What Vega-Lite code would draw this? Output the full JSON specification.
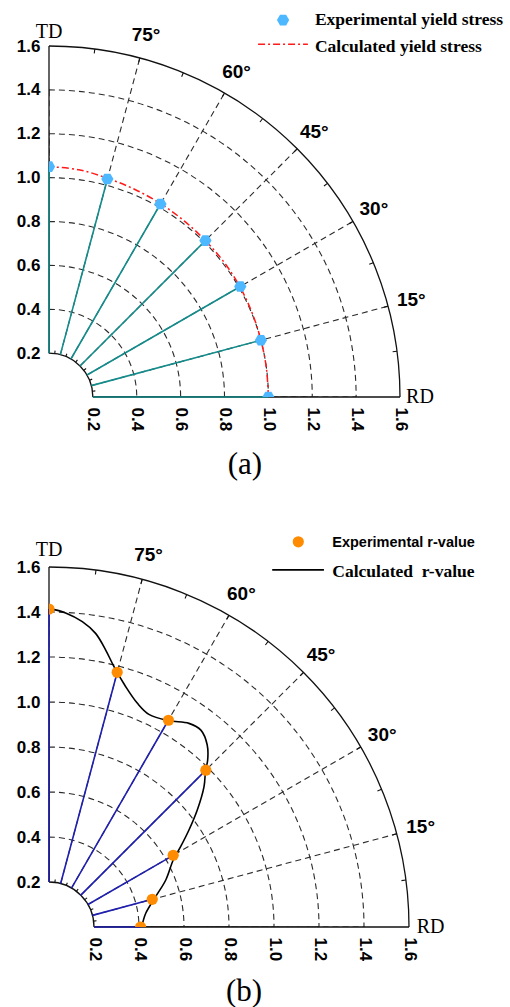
{
  "$schema": "https://vega.github.io/schema/vega-lite/v6.json",
  "background": "white",
  "padding": {"left": 16, "top": 11, "right": 0, "bottom": 0},
  "spacing": 54,
  "config": {
    "view": {"stroke": null},
    "axis": {"domain": false, "ticks": false, "tickSize": 0, "grid": false, "labelFont": "Liberation Sans", "labelFontWeight": "bold", "labelFontSize": 17, "labelColor": "#000000", "labelFlush": false, "labelOverlap": false},
    "axisX": {"labelAngle": 90, "labelAlign": "left", "labelBaseline": "middle", "labelPadding": 10},
    "axisY": {"labelPadding": 9}
  },
  "resolve": {"scale": {"theta": "independent", "radius": "independent"}},
  "datasets": {
    "rings": [
      {"r": 0.4, "a0": 90, "a1": 0}, {"r": 0.6, "a0": 90, "a1": 0}, {"r": 0.8, "a0": 90, "a1": 0},
      {"r": 1.0, "a0": 90, "a1": 0}, {"r": 1.2, "a0": 90, "a1": 0}, {"r": 1.4, "a0": 90, "a1": 0}
    ],
    "disc": [{"r": 0.2, "a0": 90, "a1": 0}],
    "solid": [{"r": 0.2, "a0": 90, "a1": 0}, {"r": 1.6, "a0": 90, "a1": 0}],
    "one": [{"id": 1}],
    "radial": [
      {"angle": 15, "x1": 0.1932, "y1": 0.0518, "x2": 1.5455, "y2": 0.4141},
      {"angle": 30, "x1": 0.1732, "y1": 0.1, "x2": 1.3856, "y2": 0.8},
      {"angle": 45, "x1": 0.1414, "y1": 0.1414, "x2": 1.1314, "y2": 1.1314},
      {"angle": 60, "x1": 0.1, "y1": 0.1732, "x2": 0.8, "y2": 1.3856},
      {"angle": 75, "x1": 0.0518, "y1": 0.1932, "x2": 0.4141, "y2": 1.5455}
    ],
    "ticks": [
      {"angle": 7.5, "r0": 1.58, "r1": 1.6}, {"angle": 15, "r0": 1.58, "r1": 1.6}, {"angle": 22.5, "r0": 1.58, "r1": 1.6},
      {"angle": 30, "r0": 1.58, "r1": 1.6}, {"angle": 37.5, "r0": 1.58, "r1": 1.6}, {"angle": 45, "r0": 1.58, "r1": 1.6},
      {"angle": 52.5, "r0": 1.58, "r1": 1.6}, {"angle": 60, "r0": 1.58, "r1": 1.6}, {"angle": 67.5, "r0": 1.58, "r1": 1.6},
      {"angle": 75, "r0": 1.58, "r1": 1.6}, {"angle": 82.5, "r0": 1.58, "r1": 1.6},
      {"angle": 7.5, "r0": 0.2, "r1": 0.213}, {"angle": 22.5, "r0": 0.2, "r1": 0.213}, {"angle": 37.5, "r0": 0.2, "r1": 0.213},
      {"angle": 52.5, "r0": 0.2, "r1": 0.213}, {"angle": 67.5, "r0": 0.2, "r1": 0.213}, {"angle": 82.5, "r0": 0.2, "r1": 0.213}
    ],
    "labels": [
      {"angle": 15, "label": "15°", "r": 1.71}, {"angle": 30, "label": "30°", "r": 1.71}, {"angle": 45, "label": "45°", "r": 1.71},
      {"angle": 60, "label": "60°", "r": 1.71}, {"angle": 75, "label": "75°", "r": 1.71}
    ],
    "ptsA": [
      {"angle": 0, "r": 1.0, "x": 1.0, "y": 0.0},
      {"angle": 15, "r": 1.0, "x": 0.966, "y": 0.259},
      {"angle": 30, "r": 1.007, "x": 0.872, "y": 0.504},
      {"angle": 45, "r": 1.009, "x": 0.713, "y": 0.713},
      {"angle": 60, "r": 1.016, "x": 0.508, "y": 0.88},
      {"angle": 75, "r": 1.029, "x": 0.266, "y": 0.994},
      {"angle": 90, "r": 1.05, "x": 0.0, "y": 1.05}
    ],
    "curveA": [
      {"k": 0, "x": 1.0, "y": 0.0}, {"k": 1, "x": 0.991, "y": 0.131}, {"k": 2, "x": 0.966, "y": 0.259},
      {"k": 3, "x": 0.926, "y": 0.383}, {"k": 4, "x": 0.87, "y": 0.503}, {"k": 5, "x": 0.799, "y": 0.613},
      {"k": 6, "x": 0.713, "y": 0.713}, {"k": 7, "x": 0.616, "y": 0.803}, {"k": 8, "x": 0.509, "y": 0.881},
      {"k": 9, "x": 0.392, "y": 0.946}, {"k": 10, "x": 0.267, "y": 0.997}, {"k": 11, "x": 0.136, "y": 1.036},
      {"k": 12, "x": 0.0, "y": 1.05}
    ],
    "ptsB": [
      {"angle": 0, "r": 0.407, "x": 0.407, "y": 0.0},
      {"angle": 15, "r": 0.475, "x": 0.459, "y": 0.123},
      {"angle": 30, "r": 0.637, "x": 0.552, "y": 0.319},
      {"angle": 45, "r": 0.986, "x": 0.697, "y": 0.697},
      {"angle": 60, "r": 1.061, "x": 0.531, "y": 0.919},
      {"angle": 75, "r": 1.172, "x": 0.303, "y": 1.132},
      {"angle": 90, "r": 1.413, "x": 0.0, "y": 1.413}
    ],
    "curveB": [
      {"k": 0, "x": 0.0, "y": 1.416}, {"k": 1, "x": 0.074, "y": 1.396}, {"k": 2, "x": 0.148, "y": 1.357},
      {"k": 3, "x": 0.207, "y": 1.305}, {"k": 4, "x": 0.252, "y": 1.231}, {"k": 5, "x": 0.289, "y": 1.157},
      {"k": 6, "x": 0.341, "y": 1.068}, {"k": 7, "x": 0.393, "y": 0.994}, {"k": 8, "x": 0.444, "y": 0.945},
      {"k": 9, "x": 0.533, "y": 0.917}, {"k": 10, "x": 0.622, "y": 0.905}, {"k": 11, "x": 0.675, "y": 0.875},
      {"k": 12, "x": 0.703, "y": 0.81}, {"k": 13, "x": 0.705, "y": 0.74}, {"k": 14, "x": 0.696, "y": 0.698},
      {"k": 15, "x": 0.689, "y": 0.624}, {"k": 16, "x": 0.659, "y": 0.52}, {"k": 17, "x": 0.622, "y": 0.431},
      {"k": 18, "x": 0.585, "y": 0.357}, {"k": 19, "x": 0.553, "y": 0.3}, {"k": 20, "x": 0.519, "y": 0.209},
      {"k": 21, "x": 0.474, "y": 0.135}, {"k": 22, "x": 0.43, "y": 0.061}, {"k": 23, "x": 0.412, "y": 0.0}
    ]
  },
  "vconcat": [
    {
      "width": 351,
      "height": 351,
      "layer": [
        {
          "data": {"name": "rings"},
          "mark": {"type": "arc", "filled": false, "stroke": "#2b2b2b", "strokeWidth": 1.1, "strokeDash": [6, 4], "clip": true},
          "encoding": {
            "x": {"datum": 0, "type": "quantitative", "scale": {"domain": [0, 1.6], "nice": false, "zero": false}, "axis": {"values": [0.2, 0.4, 0.6, 0.8, 1.0, 1.2, 1.4, 1.6], "format": ".1f", "title": null}},
            "y": {"datum": 0, "type": "quantitative", "scale": {"domain": [0, 1.6], "nice": false, "zero": false}, "axis": {"values": [0.2, 0.4, 0.6, 0.8, 1.0, 1.2, 1.4, 1.6], "format": ".1f", "title": null}},
            "theta": {"field": "a0", "type": "quantitative", "stack": null, "scale": {"type": "linear", "domain": [90, 0], "range": [0, 1.5707963]}},
            "theta2": {"field": "a1"},
            "radius": {"field": "r", "type": "quantitative", "stack": null, "scale": {"type": "linear", "domain": [0, 1.6], "range": [0, 351], "zero": true}}
          }
        },
        {
          "data": {"name": "radial"},
          "mark": {"type": "rule", "stroke": "#2b2b2b", "strokeWidth": 1.1, "strokeDash": [6, 4]},
          "encoding": {
            "x": {"field": "x1", "type": "quantitative", "scale": {"domain": [0, 1.6], "nice": false, "zero": false}, "axis": {"values": [0.2, 0.4, 0.6, 0.8, 1.0, 1.2, 1.4, 1.6], "format": ".1f", "title": null}},
            "y": {"field": "y1", "type": "quantitative", "scale": {"domain": [0, 1.6], "nice": false, "zero": false}, "axis": {"values": [0.2, 0.4, 0.6, 0.8, 1.0, 1.2, 1.4, 1.6], "format": ".1f", "title": null}},
            "x2": {"field": "x2"},
            "y2": {"field": "y2"}
          }
        },
        {
          "data": {"name": "disc"},
          "mark": {"type": "arc", "fill": "white", "strokeWidth": 0},
          "encoding": {
            "x": {"datum": 0, "type": "quantitative", "axis": {"values": [0.2, 0.4, 0.6, 0.8, 1.0, 1.2, 1.4, 1.6], "format": ".1f", "title": null}},
            "y": {"datum": 0, "type": "quantitative", "axis": {"values": [0.2, 0.4, 0.6, 0.8, 1.0, 1.2, 1.4, 1.6], "format": ".1f", "title": null}},
            "theta": {"field": "a0", "type": "quantitative", "stack": null},
            "theta2": {"field": "a1"},
            "radius": {"field": "r", "type": "quantitative", "stack": null}
          }
        },
        {
          "data": {"name": "one"},
          "mark": {"type": "rule", "stroke": "#111111", "strokeWidth": 1.3},
          "encoding": {
            "x": {"datum": 0, "type": "quantitative", "axis": {"values": [0.2, 0.4, 0.6, 0.8, 1.0, 1.2, 1.4, 1.6], "format": ".1f", "title": null}},
            "y": {"datum": 0.2, "type": "quantitative", "axis": {"values": [0.2, 0.4, 0.6, 0.8, 1.0, 1.2, 1.4, 1.6], "format": ".1f", "title": null}},
            "y2": {"datum": 1.6}
          }
        },
        {
          "data": {"name": "one"},
          "mark": {"type": "rule", "stroke": "#111111", "strokeWidth": 1.3},
          "encoding": {
            "y": {"datum": 0, "type": "quantitative", "axis": {"values": [0.2, 0.4, 0.6, 0.8, 1.0, 1.2, 1.4, 1.6], "format": ".1f", "title": null}},
            "x": {"datum": 0.2, "type": "quantitative", "axis": {"values": [0.2, 0.4, 0.6, 0.8, 1.0, 1.2, 1.4, 1.6], "format": ".1f", "title": null}},
            "x2": {"datum": 1.6}
          }
        },
        {
          "data": {"name": "solid"},
          "mark": {"type": "arc", "filled": false, "stroke": "#111111", "strokeWidth": 1.3},
          "encoding": {
            "x": {"datum": 0, "type": "quantitative", "axis": {"values": [0.2, 0.4, 0.6, 0.8, 1.0, 1.2, 1.4, 1.6], "format": ".1f", "title": null}},
            "y": {"datum": 0, "type": "quantitative", "axis": {"values": [0.2, 0.4, 0.6, 0.8, 1.0, 1.2, 1.4, 1.6], "format": ".1f", "title": null}},
            "theta": {"field": "a0", "type": "quantitative", "stack": null},
            "theta2": {"field": "a1"},
            "radius": {"field": "r", "type": "quantitative", "stack": null},
            "radius2": {"field": "r"}
          }
        },
        {
          "data": {"name": "ticks"},
          "mark": {"type": "arc", "filled": false, "stroke": "#111111", "strokeWidth": 1.1},
          "encoding": {
            "x": {"datum": 0, "type": "quantitative", "axis": {"values": [0.2, 0.4, 0.6, 0.8, 1.0, 1.2, 1.4, 1.6], "format": ".1f", "title": null}},
            "y": {"datum": 0, "type": "quantitative", "axis": {"values": [0.2, 0.4, 0.6, 0.8, 1.0, 1.2, 1.4, 1.6], "format": ".1f", "title": null}},
            "theta": {"field": "angle", "type": "quantitative", "stack": null},
            "theta2": {"field": "angle"},
            "radius": {"field": "r0", "type": "quantitative", "stack": null},
            "radius2": {"field": "r1"}
          }
        },
        {
          "data": {"name": "ptsA"},
          "mark": {"type": "arc", "filled": false, "stroke": "#148c8c", "strokeWidth": 1.6},
          "encoding": {
            "x": {"datum": 0, "type": "quantitative", "axis": {"values": [0.2, 0.4, 0.6, 0.8, 1.0, 1.2, 1.4, 1.6], "format": ".1f", "title": null}},
            "y": {"datum": 0, "type": "quantitative", "axis": {"values": [0.2, 0.4, 0.6, 0.8, 1.0, 1.2, 1.4, 1.6], "format": ".1f", "title": null}},
            "theta": {"field": "angle", "type": "quantitative", "stack": null},
            "theta2": {"field": "angle"},
            "radius": {"field": "r", "type": "quantitative", "stack": null},
            "radius2": {"datum": 0.2}
          }
        },
        {
          "data": {"name": "curveA"},
          "mark": {"type": "line", "stroke": "#ff1a1a", "strokeWidth": 1.5, "strokeDash": [7, 3, 2, 3], "interpolate": "catmull-rom"},
          "encoding": {
            "x": {"field": "x", "type": "quantitative", "axis": {"values": [0.2, 0.4, 0.6, 0.8, 1.0, 1.2, 1.4, 1.6], "format": ".1f", "title": null}},
            "y": {"field": "y", "type": "quantitative", "axis": {"values": [0.2, 0.4, 0.6, 0.8, 1.0, 1.2, 1.4, 1.6], "format": ".1f", "title": null}},
            "order": {"field": "k", "type": "quantitative"}
          }
        },
        {
          "data": {"name": "ptsA"},
          "mark": {"type": "point", "shape": "M-1,0L-0.5,-0.866L0.5,-0.866L1,0L0.5,0.866L-0.5,0.866Z", "filled": true, "color": "#4db8ff", "opacity": 1, "size": 150, "clip": true},
          "encoding": {
            "x": {"field": "x", "type": "quantitative", "axis": {"values": [0.2, 0.4, 0.6, 0.8, 1.0, 1.2, 1.4, 1.6], "format": ".1f", "title": null}},
            "y": {"field": "y", "type": "quantitative", "axis": {"values": [0.2, 0.4, 0.6, 0.8, 1.0, 1.2, 1.4, 1.6], "format": ".1f", "title": null}}
          }
        },
        {
          "data": {"name": "labels"},
          "mark": {"type": "text", "font": "Liberation Sans", "fontWeight": "bold", "fontSize": 19, "align": "center", "baseline": "middle", "color": "#000000"},
          "encoding": {
            "x": {"datum": 0, "type": "quantitative", "axis": {"values": [0.2, 0.4, 0.6, 0.8, 1.0, 1.2, 1.4, 1.6], "format": ".1f", "title": null}},
            "y": {"datum": 0, "type": "quantitative", "axis": {"values": [0.2, 0.4, 0.6, 0.8, 1.0, 1.2, 1.4, 1.6], "format": ".1f", "title": null}},
            "theta": {"field": "angle", "type": "quantitative", "stack": null},
            "radius": {"field": "r", "type": "quantitative", "stack": null},
            "text": {"field": "label", "type": "nominal"}
          }
        },
        {
          "data": {"name": "one"},
          "mark": {"type": "text", "text": "TD", "font": "Liberation Serif", "fontSize": 20, "align": "center", "baseline": "middle", "color": "#000000"},
          "encoding": {"x": {"datum": 0, "type": "quantitative", "axis": {"values": [0.2, 0.4, 0.6, 0.8, 1.0, 1.2, 1.4, 1.6], "format": ".1f", "title": null}}, "y": {"datum": 1.666, "type": "quantitative", "axis": {"values": [0.2, 0.4, 0.6, 0.8, 1.0, 1.2, 1.4, 1.6], "format": ".1f", "title": null}}}
        },
        {
          "data": {"name": "one"},
          "mark": {"type": "text", "text": "RD", "font": "Liberation Serif", "fontSize": 20, "align": "center", "baseline": "middle", "color": "#000000"},
          "encoding": {"x": {"datum": 1.691, "type": "quantitative", "axis": {"values": [0.2, 0.4, 0.6, 0.8, 1.0, 1.2, 1.4, 1.6], "format": ".1f", "title": null}}, "y": {"datum": 0, "type": "quantitative", "axis": {"values": [0.2, 0.4, 0.6, 0.8, 1.0, 1.2, 1.4, 1.6], "format": ".1f", "title": null}}}
        },
        {
          "data": {"name": "one"},
          "mark": {"type": "point", "shape": "M-1,0L-0.5,-0.866L0.5,-0.866L1,0L0.5,0.866L-0.5,0.866Z", "filled": true, "color": "#4db8ff", "opacity": 1, "size": 150},
          "encoding": {"x": {"datum": 1.067, "type": "quantitative", "axis": {"values": [0.2, 0.4, 0.6, 0.8, 1.0, 1.2, 1.4, 1.6], "format": ".1f", "title": null}}, "y": {"datum": 1.718, "type": "quantitative", "axis": {"values": [0.2, 0.4, 0.6, 0.8, 1.0, 1.2, 1.4, 1.6], "format": ".1f", "title": null}}}
        },
        {
          "data": {"name": "one"},
          "mark": {"type": "text", "text": "Experimental yield stress", "font": "Liberation Serif", "fontWeight": "bold", "fontSize": 17.5, "align": "left", "baseline": "middle", "color": "#000000"},
          "encoding": {"x": {"datum": 1.212, "type": "quantitative", "axis": {"values": [0.2, 0.4, 0.6, 0.8, 1.0, 1.2, 1.4, 1.6], "format": ".1f", "title": null}}, "y": {"datum": 1.718, "type": "quantitative", "axis": {"values": [0.2, 0.4, 0.6, 0.8, 1.0, 1.2, 1.4, 1.6], "format": ".1f", "title": null}}}
        },
        {
          "data": {"name": "one"},
          "mark": {"type": "rule", "stroke": "#ff1a1a", "strokeWidth": 1.5, "strokeDash": [7, 3, 2, 3]},
          "encoding": {"x": {"datum": 0.953, "type": "quantitative", "axis": {"values": [0.2, 0.4, 0.6, 0.8, 1.0, 1.2, 1.4, 1.6], "format": ".1f", "title": null}}, "x2": {"datum": 1.18}, "y": {"datum": 1.608, "type": "quantitative", "axis": {"values": [0.2, 0.4, 0.6, 0.8, 1.0, 1.2, 1.4, 1.6], "format": ".1f", "title": null}}}
        },
        {
          "data": {"name": "one"},
          "mark": {"type": "text", "text": "Calculated yield stress", "font": "Liberation Serif", "fontWeight": "bold", "fontSize": 17.5, "align": "left", "baseline": "middle", "color": "#000000"},
          "encoding": {"x": {"datum": 1.212, "type": "quantitative", "axis": {"values": [0.2, 0.4, 0.6, 0.8, 1.0, 1.2, 1.4, 1.6], "format": ".1f", "title": null}}, "y": {"datum": 1.596, "type": "quantitative", "axis": {"values": [0.2, 0.4, 0.6, 0.8, 1.0, 1.2, 1.4, 1.6], "format": ".1f", "title": null}}}
        },
        {
          "data": {"name": "one"},
          "mark": {"type": "text", "text": "(a)", "font": "Liberation Serif", "fontSize": 31, "align": "center", "baseline": "middle", "color": "#000000"},
          "encoding": {"x": {"datum": 0.893, "type": "quantitative", "axis": {"values": [0.2, 0.4, 0.6, 0.8, 1.0, 1.2, 1.4, 1.6], "format": ".1f", "title": null}}, "y": {"datum": -0.31, "type": "quantitative", "axis": {"values": [0.2, 0.4, 0.6, 0.8, 1.0, 1.2, 1.4, 1.6], "format": ".1f", "title": null}}}
        }
      ]
    },
    {
      "width": 360,
      "height": 360,
      "layer": [
        {
          "data": {"name": "rings"},
          "mark": {"type": "arc", "filled": false, "stroke": "#2b2b2b", "strokeWidth": 1.1, "strokeDash": [6, 4], "clip": true},
          "encoding": {
            "x": {"datum": 0, "type": "quantitative", "scale": {"domain": [0, 1.6], "nice": false, "zero": false}, "axis": {"values": [0.2, 0.4, 0.6, 0.8, 1.0, 1.2, 1.4, 1.6], "format": ".1f", "title": null}},
            "y": {"datum": 0, "type": "quantitative", "scale": {"domain": [0, 1.6], "nice": false, "zero": false}, "axis": {"values": [0.2, 0.4, 0.6, 0.8, 1.0, 1.2, 1.4, 1.6], "format": ".1f", "title": null}},
            "theta": {"field": "a0", "type": "quantitative", "stack": null, "scale": {"type": "linear", "domain": [90, 0], "range": [0, 1.5707963]}},
            "theta2": {"field": "a1"},
            "radius": {"field": "r", "type": "quantitative", "stack": null, "scale": {"type": "linear", "domain": [0, 1.6], "range": [0, 360], "zero": true}}
          }
        },
        {
          "data": {"name": "radial"},
          "mark": {"type": "rule", "stroke": "#2b2b2b", "strokeWidth": 1.1, "strokeDash": [6, 4]},
          "encoding": {
            "x": {"field": "x1", "type": "quantitative", "scale": {"domain": [0, 1.6], "nice": false, "zero": false}, "axis": {"values": [0.2, 0.4, 0.6, 0.8, 1.0, 1.2, 1.4, 1.6], "format": ".1f", "title": null}},
            "y": {"field": "y1", "type": "quantitative", "scale": {"domain": [0, 1.6], "nice": false, "zero": false}, "axis": {"values": [0.2, 0.4, 0.6, 0.8, 1.0, 1.2, 1.4, 1.6], "format": ".1f", "title": null}},
            "x2": {"field": "x2"},
            "y2": {"field": "y2"}
          }
        },
        {
          "data": {"name": "disc"},
          "mark": {"type": "arc", "fill": "white", "strokeWidth": 0},
          "encoding": {
            "x": {"datum": 0, "type": "quantitative", "axis": {"values": [0.2, 0.4, 0.6, 0.8, 1.0, 1.2, 1.4, 1.6], "format": ".1f", "title": null}},
            "y": {"datum": 0, "type": "quantitative", "axis": {"values": [0.2, 0.4, 0.6, 0.8, 1.0, 1.2, 1.4, 1.6], "format": ".1f", "title": null}},
            "theta": {"field": "a0", "type": "quantitative", "stack": null},
            "theta2": {"field": "a1"},
            "radius": {"field": "r", "type": "quantitative", "stack": null}
          }
        },
        {
          "data": {"name": "one"},
          "mark": {"type": "rule", "stroke": "#111111", "strokeWidth": 1.3},
          "encoding": {
            "x": {"datum": 0, "type": "quantitative", "axis": {"values": [0.2, 0.4, 0.6, 0.8, 1.0, 1.2, 1.4, 1.6], "format": ".1f", "title": null}},
            "y": {"datum": 0.2, "type": "quantitative", "axis": {"values": [0.2, 0.4, 0.6, 0.8, 1.0, 1.2, 1.4, 1.6], "format": ".1f", "title": null}},
            "y2": {"datum": 1.6}
          }
        },
        {
          "data": {"name": "one"},
          "mark": {"type": "rule", "stroke": "#111111", "strokeWidth": 1.3},
          "encoding": {
            "y": {"datum": 0, "type": "quantitative", "axis": {"values": [0.2, 0.4, 0.6, 0.8, 1.0, 1.2, 1.4, 1.6], "format": ".1f", "title": null}},
            "x": {"datum": 0.2, "type": "quantitative", "axis": {"values": [0.2, 0.4, 0.6, 0.8, 1.0, 1.2, 1.4, 1.6], "format": ".1f", "title": null}},
            "x2": {"datum": 1.6}
          }
        },
        {
          "data": {"name": "solid"},
          "mark": {"type": "arc", "filled": false, "stroke": "#111111", "strokeWidth": 1.3},
          "encoding": {
            "x": {"datum": 0, "type": "quantitative", "axis": {"values": [0.2, 0.4, 0.6, 0.8, 1.0, 1.2, 1.4, 1.6], "format": ".1f", "title": null}},
            "y": {"datum": 0, "type": "quantitative", "axis": {"values": [0.2, 0.4, 0.6, 0.8, 1.0, 1.2, 1.4, 1.6], "format": ".1f", "title": null}},
            "theta": {"field": "a0", "type": "quantitative", "stack": null},
            "theta2": {"field": "a1"},
            "radius": {"field": "r", "type": "quantitative", "stack": null},
            "radius2": {"field": "r"}
          }
        },
        {
          "data": {"name": "ticks"},
          "mark": {"type": "arc", "filled": false, "stroke": "#111111", "strokeWidth": 1.1},
          "encoding": {
            "x": {"datum": 0, "type": "quantitative", "axis": {"values": [0.2, 0.4, 0.6, 0.8, 1.0, 1.2, 1.4, 1.6], "format": ".1f", "title": null}},
            "y": {"datum": 0, "type": "quantitative", "axis": {"values": [0.2, 0.4, 0.6, 0.8, 1.0, 1.2, 1.4, 1.6], "format": ".1f", "title": null}},
            "theta": {"field": "angle", "type": "quantitative", "stack": null},
            "theta2": {"field": "angle"},
            "radius": {"field": "r0", "type": "quantitative", "stack": null},
            "radius2": {"field": "r1"}
          }
        },
        {
          "data": {"name": "ptsB"},
          "mark": {"type": "arc", "filled": false, "stroke": "#2020b0", "strokeWidth": 1.6},
          "encoding": {
            "x": {"datum": 0, "type": "quantitative", "axis": {"values": [0.2, 0.4, 0.6, 0.8, 1.0, 1.2, 1.4, 1.6], "format": ".1f", "title": null}},
            "y": {"datum": 0, "type": "quantitative", "axis": {"values": [0.2, 0.4, 0.6, 0.8, 1.0, 1.2, 1.4, 1.6], "format": ".1f", "title": null}},
            "theta": {"field": "angle", "type": "quantitative", "stack": null},
            "theta2": {"field": "angle"},
            "radius": {"field": "r", "type": "quantitative", "stack": null},
            "radius2": {"datum": 0.2}
          }
        },
        {
          "data": {"name": "curveB"},
          "mark": {"type": "line", "stroke": "#000000", "strokeWidth": 1.6, "interpolate": "catmull-rom"},
          "encoding": {
            "x": {"field": "x", "type": "quantitative", "axis": {"values": [0.2, 0.4, 0.6, 0.8, 1.0, 1.2, 1.4, 1.6], "format": ".1f", "title": null}},
            "y": {"field": "y", "type": "quantitative", "axis": {"values": [0.2, 0.4, 0.6, 0.8, 1.0, 1.2, 1.4, 1.6], "format": ".1f", "title": null}},
            "order": {"field": "k", "type": "quantitative"}
          }
        },
        {
          "data": {"name": "ptsB"},
          "mark": {"type": "circle", "color": "#ff8c00", "opacity": 1, "size": 125, "clip": true},
          "encoding": {
            "x": {"field": "x", "type": "quantitative", "axis": {"values": [0.2, 0.4, 0.6, 0.8, 1.0, 1.2, 1.4, 1.6], "format": ".1f", "title": null}},
            "y": {"field": "y", "type": "quantitative", "axis": {"values": [0.2, 0.4, 0.6, 0.8, 1.0, 1.2, 1.4, 1.6], "format": ".1f", "title": null}}
          }
        },
        {
          "data": {"name": "labels"},
          "mark": {"type": "text", "font": "Liberation Sans", "fontWeight": "bold", "fontSize": 19, "align": "center", "baseline": "middle", "color": "#000000"},
          "encoding": {
            "x": {"datum": 0, "type": "quantitative", "axis": {"values": [0.2, 0.4, 0.6, 0.8, 1.0, 1.2, 1.4, 1.6], "format": ".1f", "title": null}},
            "y": {"datum": 0, "type": "quantitative", "axis": {"values": [0.2, 0.4, 0.6, 0.8, 1.0, 1.2, 1.4, 1.6], "format": ".1f", "title": null}},
            "theta": {"field": "angle", "type": "quantitative", "stack": null},
            "radius": {"field": "r", "type": "quantitative", "stack": null},
            "text": {"field": "label", "type": "nominal"}
          }
        },
        {
          "data": {"name": "one"},
          "mark": {"type": "text", "text": "TD", "font": "Liberation Serif", "fontSize": 20, "align": "center", "baseline": "middle", "color": "#000000"},
          "encoding": {"x": {"datum": 0, "type": "quantitative", "axis": {"values": [0.2, 0.4, 0.6, 0.8, 1.0, 1.2, 1.4, 1.6], "format": ".1f", "title": null}}, "y": {"datum": 1.676, "type": "quantitative", "axis": {"values": [0.2, 0.4, 0.6, 0.8, 1.0, 1.2, 1.4, 1.6], "format": ".1f", "title": null}}}
        },
        {
          "data": {"name": "one"},
          "mark": {"type": "text", "text": "RD", "font": "Liberation Serif", "fontSize": 20, "align": "center", "baseline": "middle", "color": "#000000"},
          "encoding": {"x": {"datum": 1.696, "type": "quantitative", "axis": {"values": [0.2, 0.4, 0.6, 0.8, 1.0, 1.2, 1.4, 1.6], "format": ".1f", "title": null}}, "y": {"datum": 0, "type": "quantitative", "axis": {"values": [0.2, 0.4, 0.6, 0.8, 1.0, 1.2, 1.4, 1.6], "format": ".1f", "title": null}}}
        },
        {
          "data": {"name": "one"},
          "mark": {"type": "circle", "color": "#ff8c00", "opacity": 1, "size": 125},
          "encoding": {"x": {"datum": 1.108, "type": "quantitative", "axis": {"values": [0.2, 0.4, 0.6, 0.8, 1.0, 1.2, 1.4, 1.6], "format": ".1f", "title": null}}, "y": {"datum": 1.712, "type": "quantitative", "axis": {"values": [0.2, 0.4, 0.6, 0.8, 1.0, 1.2, 1.4, 1.6], "format": ".1f", "title": null}}}
        },
        {
          "data": {"name": "one"},
          "mark": {"type": "text", "text": "Experimental r-value", "font": "Liberation Sans", "fontWeight": "bold", "fontSize": 14.5, "align": "left", "baseline": "middle", "color": "#000000"},
          "encoding": {"x": {"datum": 1.259, "type": "quantitative", "axis": {"values": [0.2, 0.4, 0.6, 0.8, 1.0, 1.2, 1.4, 1.6], "format": ".1f", "title": null}}, "y": {"datum": 1.705, "type": "quantitative", "axis": {"values": [0.2, 0.4, 0.6, 0.8, 1.0, 1.2, 1.4, 1.6], "format": ".1f", "title": null}}}
        },
        {
          "data": {"name": "one"},
          "mark": {"type": "rule", "stroke": "#000000", "strokeWidth": 1.6},
          "encoding": {"x": {"datum": 0.992, "type": "quantitative", "axis": {"values": [0.2, 0.4, 0.6, 0.8, 1.0, 1.2, 1.4, 1.6], "format": ".1f", "title": null}}, "x2": {"datum": 1.222}, "y": {"datum": 1.587, "type": "quantitative", "axis": {"values": [0.2, 0.4, 0.6, 0.8, 1.0, 1.2, 1.4, 1.6], "format": ".1f", "title": null}}}
        },
        {
          "data": {"name": "one"},
          "mark": {"type": "text", "text": "Calculated\u00a0 r-value", "font": "Liberation Serif", "fontWeight": "bold", "fontSize": 17.5, "align": "left", "baseline": "middle", "color": "#000000"},
          "encoding": {"x": {"datum": 1.259, "type": "quantitative", "axis": {"values": [0.2, 0.4, 0.6, 0.8, 1.0, 1.2, 1.4, 1.6], "format": ".1f", "title": null}}, "y": {"datum": 1.579, "type": "quantitative", "axis": {"values": [0.2, 0.4, 0.6, 0.8, 1.0, 1.2, 1.4, 1.6], "format": ".1f", "title": null}}}
        },
        {
          "data": {"name": "one"},
          "mark": {"type": "text", "text": "(b)", "font": "Liberation Serif", "fontSize": 31, "align": "center", "baseline": "middle", "color": "#000000"},
          "encoding": {"x": {"datum": 0.867, "type": "quantitative", "axis": {"values": [0.2, 0.4, 0.6, 0.8, 1.0, 1.2, 1.4, 1.6], "format": ".1f", "title": null}}, "y": {"datum": -0.289, "type": "quantitative", "axis": {"values": [0.2, 0.4, 0.6, 0.8, 1.0, 1.2, 1.4, 1.6], "format": ".1f", "title": null}}}
        }
      ]
    }
  ]
}
